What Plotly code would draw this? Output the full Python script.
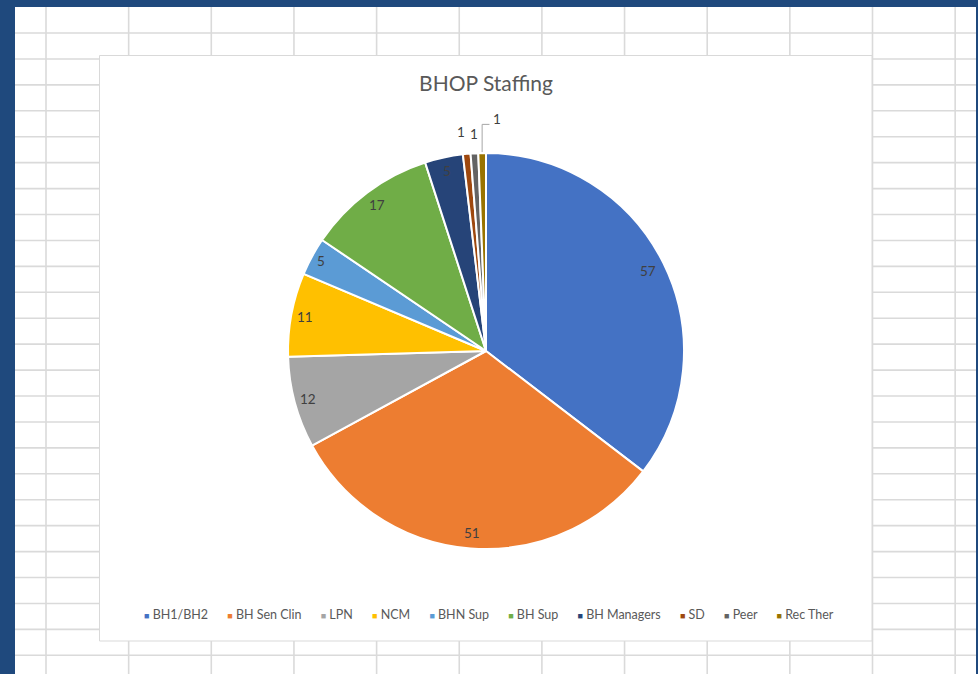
import math
import plotly.graph_objects as go

# ---- data ----
categories = ["BH1/BH2", "BH Sen Clin", "LPN", "NCM", "BHN Sup", "BH Sup",
              "BH Managers", "SD", "Peer", "Rec Ther"]
values = [57, 51, 12, 11, 5, 17, 5, 1, 1, 1]
colors = ["#4472C4", "#ED7D31", "#A5A5A5", "#FFC000", "#5B9BD5", "#70AD47",
          "#264478", "#9E480E", "#636363", "#997300"]
title_text = "BHOP Staffing"

# ---- layout helpers (pixel -> paper) ----
W, H = 978, 674
def px(x):
    return x / W
def py(y):
    return 1 - y / H

CX, CY, R = 486, 351, 198  # pie centre / radius in px

shapes = []
BLUE = "#1F497D"
GRID = "#DADADA"
# spreadsheet grid
col_x = [46 + 82.65 * k for k in range(12)]
row_y = [33 + 25.93 * k for k in range(26)]
for x in col_x:
    shapes.append(dict(type="line", xref="paper", yref="paper", x0=px(x), x1=px(x),
                       y0=py(7), y1=py(H), line=dict(color=GRID, width=1.6), layer="below"))
for y in row_y:
    shapes.append(dict(type="line", xref="paper", yref="paper", x0=px(15), x1=px(977),
                       y0=py(y), y1=py(y), line=dict(color=GRID, width=1.6), layer="below"))
# chart area
shapes.append(dict(type="rect", xref="paper", yref="paper", x0=px(99.5), x1=px(872),
                   y0=py(641), y1=py(55.5), fillcolor="white",
                   line=dict(color="#D9D9D9", width=1), layer="below"))
# window frame
shapes.append(dict(type="rect", xref="paper", yref="paper", x0=0, x1=1, y0=py(7), y1=1,
                   fillcolor=BLUE, line=dict(width=0), layer="below"))
shapes.append(dict(type="rect", xref="paper", yref="paper", x0=0, x1=px(15), y0=0, y1=1,
                   fillcolor=BLUE, line=dict(width=0), layer="below"))
shapes.append(dict(type="rect", xref="paper", yref="paper", x0=px(976), x1=1, y0=0, y1=1,
                   fillcolor=BLUE, line=dict(width=0), layer="below"))

fig = go.Figure()
fig.add_trace(go.Pie(
    labels=categories, values=values, sort=False, direction="clockwise", rotation=0,
    marker=dict(colors=colors, line=dict(color="white", width=2)),
    textinfo="none", hoverinfo="label+value",
    domain=dict(x=[px(CX - R), px(CX + R)], y=[py(CY + R), py(CY - R)]),
    showlegend=False,
))

# ---- data labels placed from slice angles ----
total = sum(values)
label_rf = [0.91, 0.92, 0.93, 0.93, 0.95, 0.92, 0.93, 1.11, 1.10, 1.17]
label_dx = [0, 0, 0, 0, 0, 0, 0, -4, 1, 16]
annotations = []
cum = 0
for i, v in enumerate(values):
    mid = (cum + v / 2) / total * 2 * math.pi
    cum += v
    lx = CX + label_rf[i] * R * math.sin(mid) + label_dx[i]
    ly = CY - label_rf[i] * R * math.cos(mid)
    annotations.append(dict(x=px(lx), y=py(ly), xref="paper", yref="paper",
                            xanchor="center", yanchor="middle",
                            text=str(v), showarrow=False,
                            font=dict(family="Lato", size=13.5, color="#404040")))
    if i == len(values) - 1:
        # leader line from slice edge to the moved label
        ex = CX + R * math.sin(mid)
        ey = CY - R * math.cos(mid)
        shapes.append(dict(type="path", xref="paper", yref="paper",
                           path=f"M {px(ex)} {py(ey - 1)} L {px(ex)} {py(ly + 5)} L {px(lx - 8)} {py(ly + 5)}",
                           line=dict(color="#A6A6A6", width=1)))

# ---- legend (built from categories / colors) ----
parts = []
for c, col in zip(categories, colors):
    parts.append(f"<span style='color:{col};font-size:9px'>■</span>\u00a0{c}")
legend_text = ("\u00a0" * 6).join(parts)
annotations.append(dict(x=px(489), y=py(614), xref="paper", yref="paper",
                        xanchor="center", yanchor="middle",
                        text=legend_text, showarrow=False,
                        font=dict(family="Lato", size=12.5, color="#595959")))

fig.update_layout(
    width=W, height=H,
    margin=dict(l=0, r=0, t=0, b=0, pad=0),
    paper_bgcolor="white", plot_bgcolor="white",
    title=dict(text=title_text, x=px(486), y=py(84), xanchor="center", yanchor="middle",
               xref="paper", yref="paper",
               font=dict(family="Lato", size=21, color="#595959")),
    shapes=shapes, annotations=annotations,
)

fig.write_html("out.html", config={"displayModeBar": False},
               post_script="document.body.style.margin='0';document.body.style.overflow='hidden';")
